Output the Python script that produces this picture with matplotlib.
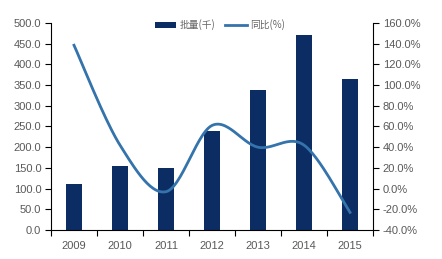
import numpy as np
import matplotlib
matplotlib.use("Agg")
import matplotlib.pyplot as plt

plt.rcParams['font.family'] = ['Liberation Sans', 'Noto Sans CJK SC']

years = ["2009", "2010", "2011", "2012", "2013", "2014", "2015"]
volume = [110, 155, 149, 239, 338, 472, 365]          # 批量(千)
yoy = [138.5, 42.0, -3.0, 61.0, 40.0, 42.0, -23.0]     # 同比(%)

BAR_C = "#0b2d63"
LINE_C = "#3473ab"
TXT_C = "#595959"


def smooth(x, y, n=30, t=0.5):
    """catmull-rom style smoothing like excel's smoothed line"""
    x = np.asarray(x, float); y = np.asarray(y, float)
    px = np.concatenate([[x[0]], x, [x[-1]]])
    py = np.concatenate([[y[0]], y, [y[-1]]])
    xs, ys = [], []
    for i in range(1, len(px) - 2):
        p0, p1, p2, p3 = [np.array([px[j], py[j]]) for j in range(i - 1, i + 3)]
        c1 = p1 + (p2 - p0) * t / 3
        c2 = p2 - (p3 - p1) * t / 3
        s = np.linspace(0, 1, n)[:, None]
        pts = (1 - s) ** 3 * p1 + 3 * (1 - s) ** 2 * s * c1 + 3 * (1 - s) * s ** 2 * c2 + s ** 3 * p2
        xs.append(pts[:, 0]); ys.append(pts[:, 1])
    return np.concatenate(xs), np.concatenate(ys)


fig = plt.figure(figsize=(4.42, 2.59), dpi=100)
ax = fig.add_axes([51 / 442, 29 / 259, 322 / 442, 207 / 259])
x = np.arange(len(years))
bars = ax.bar(x, volume, width=0.33, color=BAR_C, label="批量(千)", zorder=2)
ax.set_xlim(-0.5, len(years) - 0.5)
ax.set_ylim(0, 500)
ax.set_yticks(np.arange(0, 501, 50))
ax.set_yticklabels([f"{v:.1f}" for v in np.arange(0, 501, 50)])
ax.set_xticks(x)
ax.set_xticklabels(years)
ax.set_xticks(np.arange(-0.5, len(years)), minor=True)
ax.tick_params(axis='x', which='major', length=0, pad=8, labelsize=8, labelcolor=TXT_C)
ax.tick_params(axis='x', which='minor', length=4, direction='out', width=0.8)
ax.tick_params(axis='y', length=4, width=0.8, direction='out', labelsize=8, labelcolor=TXT_C, pad=3)
ax.spines['top'].set_visible(False)
ax.spines['right'].set_visible(False)
for s in ['left', 'bottom']:
    ax.spines[s].set_linewidth(0.8)

ax2 = ax.twinx()
sx, sy = smooth(x, yoy)
line, = ax2.plot(sx, sy, color=LINE_C, lw=2.0, label="同比(%)", zorder=3)
ax2.set_ylim(-40, 160)
ax2.set_yticks(np.arange(-40, 161, 20))
ax2.set_yticklabels([f"{v:.1f}%" for v in np.arange(-40, 161, 20)])
ax2.tick_params(axis='y', length=4, width=0.8, direction='out', labelsize=8, labelcolor=TXT_C, pad=3)
ax2.spines['top'].set_visible(False)
ax2.spines['left'].set_visible(False)
ax2.spines['bottom'].set_visible(False)
ax2.spines['right'].set_linewidth(0.8)

leg = fig.legend([bars, line], ["批量(千)", "同比(%)"], loc='center', bbox_to_anchor=(220 / 442, 1 - 25 / 259),
                 ncol=2, frameon=False, handlelength=2.2, handletextpad=0.4, columnspacing=1.0,
                 prop={'family': ['Noto Sans CJK SC', 'DejaVu Sans'], 'size': 7})
for t in leg.get_texts():
    t.set_color("#666666")

fig.savefig("out.png", dpi=100)
